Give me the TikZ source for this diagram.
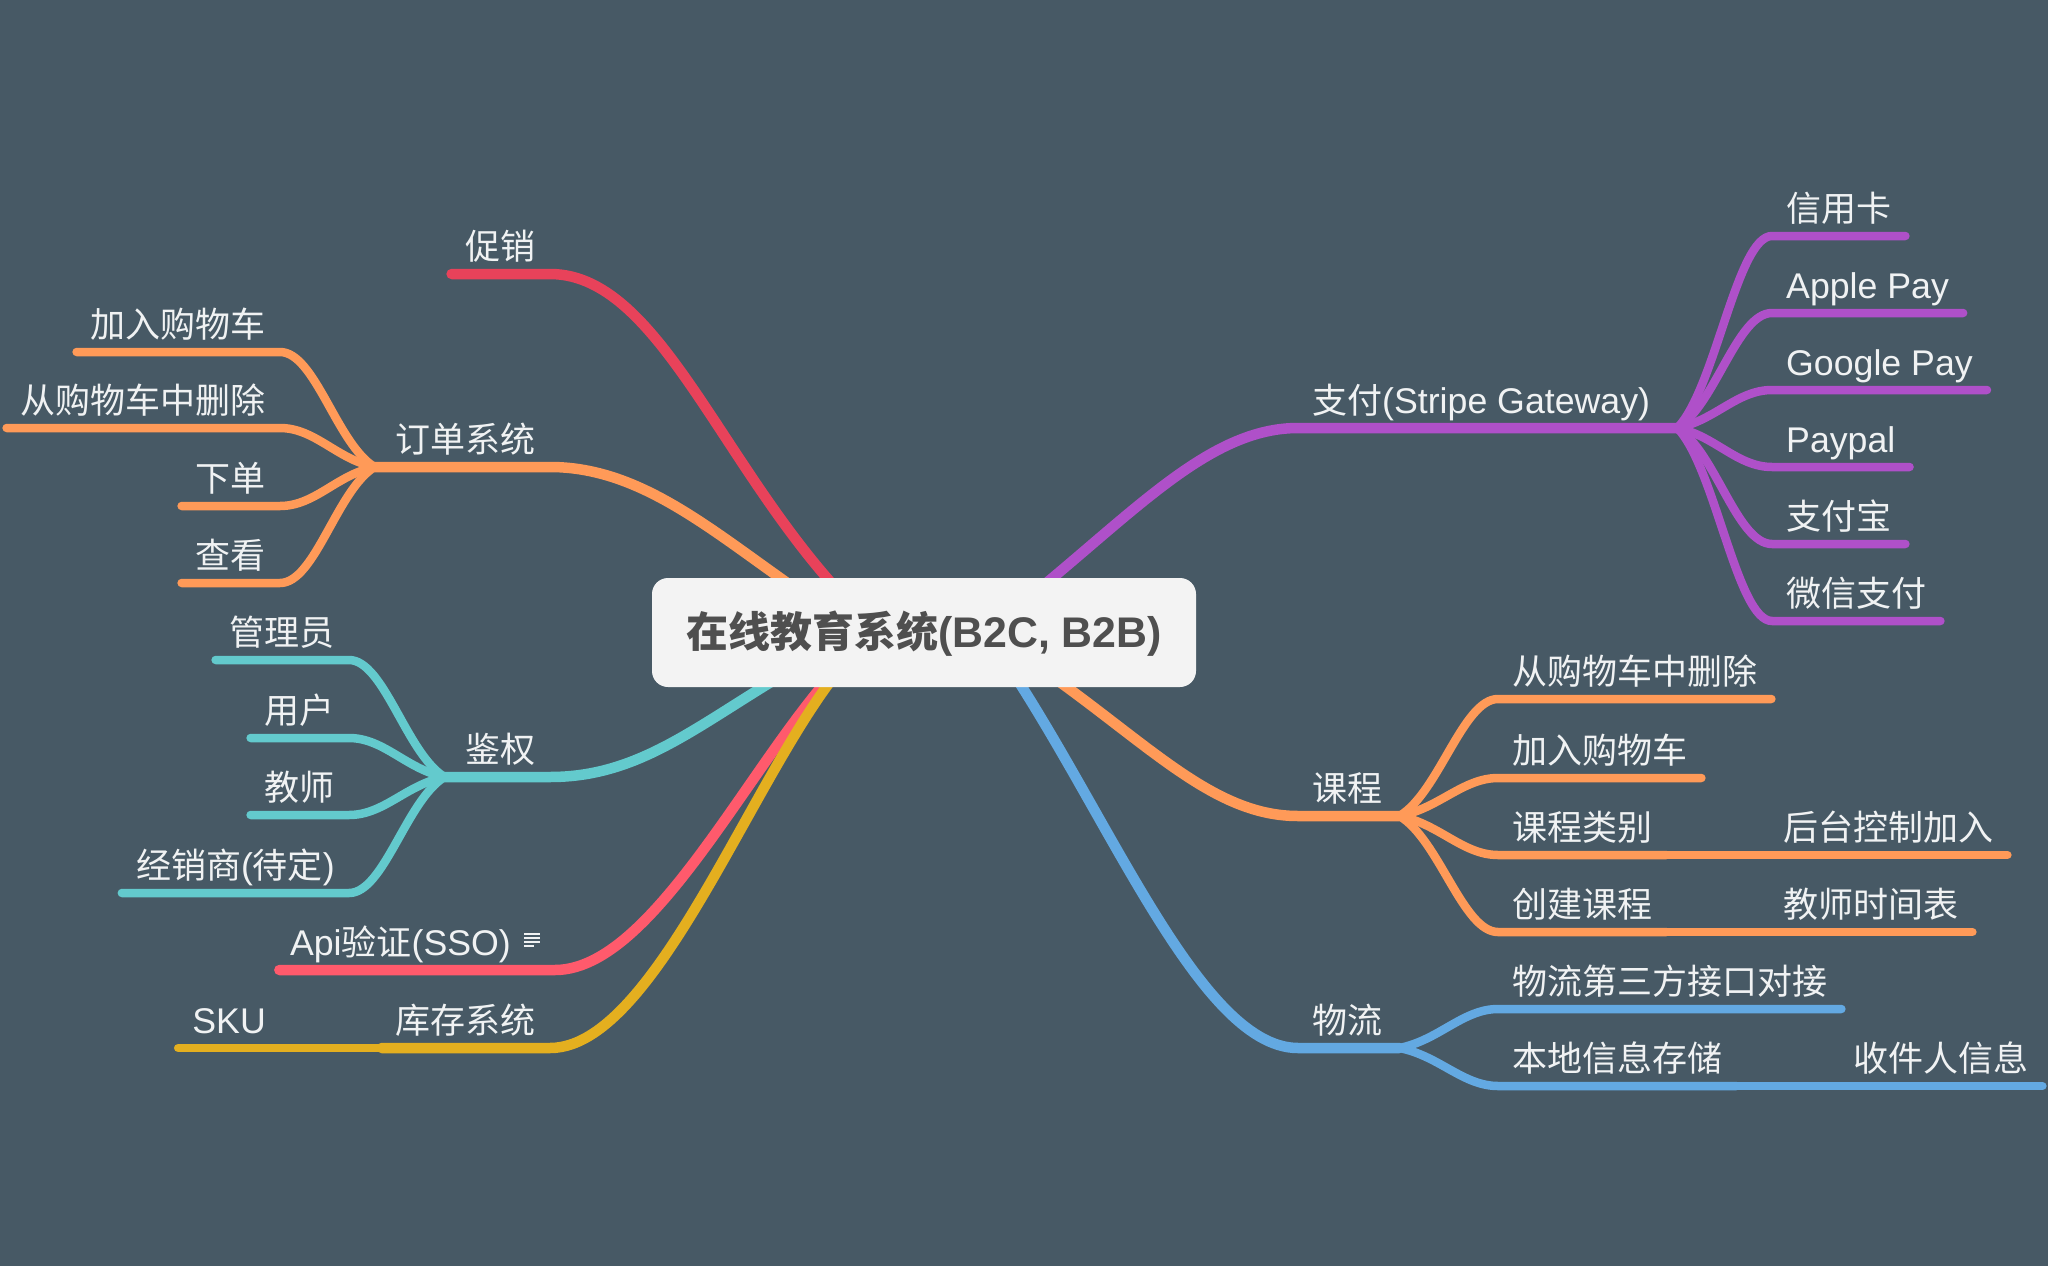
\documentclass[tikz,border=0pt]{standalone}
\usepackage{fontspec}
\setmainfont[Scale=1.02]{Liberation Sans}
\newfontfamily\cjk{Noto Sans CJK SC}
\usetikzlibrary{calc}
\definecolor{slatebg}{HTML}{475965}
\definecolor{rootfill}{HTML}{F3F3F3}
\definecolor{roottext}{HTML}{4F4F4F}
\definecolor{toptext}{HTML}{F0F2F3}
\definecolor{paycol}{HTML}{AF50C9}
\definecolor{promocol}{HTML}{E8425A}
\definecolor{ordercol}{HTML}{FF9A58}
\definecolor{authcol}{HTML}{63CACD}
\definecolor{apicol}{HTML}{FF5A6C}
\definecolor{stockcol}{HTML}{E4AF1F}
\definecolor{logicol}{HTML}{63A9E2}
\tikzset{
 topic/.style={text=toptext, font=\fontsize{35}{40}\selectfont, inner xsep=14pt, inner ysep=4pt, text height=28pt, text depth=10pt},
 root/.style={fill=rootfill, rounded corners=16pt, text=roottext, font=\fontsize{42}{48}\selectfont\bfseries, minimum width=544pt, minimum height=109pt, text height=40pt, text depth=10pt},
 limb/.style={line width=10.5pt, line cap=round, line join=round},
 twig/.style={line width=8.5pt, line cap=round, line join=round}
}
\newcommand{\rightlink}[3]{
 \coordinate (px) at ($(#2)!.4!(#3.south west)$);
 \coordinate (py) at ($(#2)!.2!(#3.south west)$);
 \draw[twig, #1] (#2) .. controls (px |- py) and ($(#3.south west)+(-35,0)$) .. (#3.south west) -- (#3.south east);
}
\newcommand{\leftlink}[3]{
 \coordinate (px) at ($(#2)!.4!(#3.south east)$);
 \coordinate (py) at ($(#2)!.2!(#3.south east)$);
 \draw[twig, #1] (#2) .. controls (px |- py) and ($(#3.south east)+(35,0)$) .. (#3.south east) -- (#3.south west);
}
\begin{document}
\begin{tikzpicture}[x=1pt,y=-1pt]
\useasboundingbox (0,0) rectangle (2048,1266);
\fill[slatebg] (0,0) rectangle (2048,1266);
\coordinate (rootE) at (985,632);
\coordinate (rootW) at (862,632);
\coordinate (rootS) at (880,632);
\node[topic, anchor=south west] (pay) at (1298,428) {{\cjk 支付}(Stripe Gateway)\hspace*{13pt}};
\node[topic, anchor=south west] (course) at (1298,816) {{\cjk 课程}\hspace*{3pt}};
\node[topic, anchor=south west] (logi) at (1298,1048) {{\cjk 物流}\hspace*{3pt}};
\node[topic, anchor=south east] (promo) at (550,274) {{\cjk 促销}};
\node[topic, anchor=south east] (order) at (550,467) {\hspace*{7pt}{\cjk 订单系统}};
\node[topic, anchor=south east] (auth) at (550,777) {\hspace*{7pt}{\cjk 鉴权}};
\node[topic, anchor=south east, inner xsep=10.5pt] (api) at (555,970) {Api{\cjk 验证}(SSO)\hspace*{33.5pt}};
\node[topic, anchor=south east] (stock) at (550,1048) {{\cjk 库存系统}};
\foreach \n/\y/\t in {card/236/{\cjk 信用卡}, apple/313/Apple Pay, google/390/Google Pay, paypal/467/Paypal, alipay/544/{\cjk 支付宝}, wechat/621/{\cjk 微信支付}} {
 \node[topic, anchor=south west] (\n) at (1772,\y) {\t};
 \rightlink{paycol}{pay.south east}{\n}
}
\foreach \n/\y/\t in {cdel/699/{\cjk 从购物车中删除}, cadd/778/{\cjk 加入购物车}, ckind/855/{\cjk 课程类别}, cnew/932/{\cjk 创建课程}} {
 \node[topic, anchor=south west] (\n) at (1498,\y) {\t};
 \rightlink{ordercol}{course.south east}{\n}
}
\foreach \n/\y/\t in {lapi/1009/{\cjk 物流第三方接口对接}, lstore/1086/{\cjk 本地信息存储}} {
 \node[topic, anchor=south west] (\n) at (1498,\y) {\t};
 \rightlink{logicol}{logi.south east}{\n}
}
\foreach \n/\y/\t in {oadd/352/{\cjk 加入购物车}, odel/428/{\cjk 从购物车中删除}, obuy/506/{\cjk 下单}, olook/583/{\cjk 查看}} {
 \node[topic, anchor=south east] (\n) at (280,\y) {\t};
 \leftlink{ordercol}{order.south west}{\n}
}
\foreach \n/\y/\t in {admin/660/{\cjk 管理员}, user/738/{\cjk 用户}, teacher/815/{\cjk 教师}, dealer/893/{\cjk 经销商}({\cjk 待定})} {
 \node[topic, anchor=south east] (\n) at (349,\y) {\t};
 \leftlink{authcol}{auth.south west}{\n}
}
\node[topic, anchor=south west] (kback) at (1769,855) {{\cjk 后台控制加入}};
\node[topic, anchor=south west] (ktime) at (1769,932) {{\cjk 教师时间表}};
\node[topic, anchor=south west] (lrecv) at (1839,1086) {{\cjk 收件人信息}};
\node[topic, anchor=south east] (sku) at (280,1048) {SKU};
\draw[twig, ordercol] (ckind.south east) -- (kback.south east);
\draw[twig, ordercol] (cnew.south east) -- (ktime.south east);
\draw[twig, logicol] (lstore.south east) -- (lrecv.south east);
\draw[twig, stockcol] (stock.south west) -- (sku.south west);
\draw[limb, paycol] (rootE) .. controls (1120,530) and (1200,428) .. (pay.south west) -- (pay.south east);
\draw[limb, ordercol] (rootE) .. controls (1130,720) and (1200,816) .. (course.south west) -- (course.south east);
\draw[limb, logicol] (rootE) .. controls (1100,790) and (1195,1048) .. (logi.south west) -- (logi.south east);
\draw[limb, promocol] (rootS) .. controls (730,500) and (668,274) .. (promo.south east) -- (promo.south west);
\draw[limb, ordercol] (rootW) .. controls (740,560) and (660,467) .. (order.south east) -- (order.south west);
\draw[limb, authcol] (rootW) .. controls (720,700) and (660,777) .. (auth.south east) -- (auth.south west);
\draw[limb, apicol] (rootS) .. controls (780,692) and (668,970) .. (api.south east) -- (api.south west);
\draw[limb, stockcol] (rootS) .. controls (780,690) and (670,1048) .. (stock.south east) -- (stock.south west);
\foreach \k/\w in {0/16,4/16,8/16,12/10} {
 \draw[toptext, line width=1.2pt] ($(api.south east)+(-31,\k-36)$) --++(\w,0);
}
\node[root] (centre) at (924,632.5) {{\cjk 在线教育系统}(B2C, B2B)};
\end{tikzpicture}
\end{document}
